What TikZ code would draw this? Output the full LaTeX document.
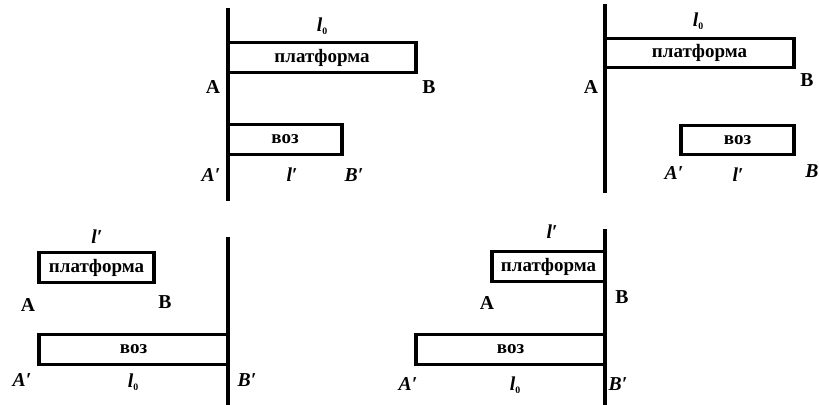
\documentclass[tikz,border=0pt]{standalone}
\usepackage{fontspec}
\setmainfont{Liberation Serif}
\usepackage{tikz}
\usetikzlibrary{positioning}

\begin{document}
\begin{tikzpicture}[
  x=0.025cm, y=-0.025cm,
  bar/.style={draw, line width=2.2pt, inner sep=0pt, minimum height=0.74cm,
              font=\fontsize{13.5}{15}\selectfont\bfseries},
  wall/.style={line width=2.2pt},
  lab/.style={font=\fontsize{14}{16}\selectfont\bfseries, inner sep=0pt},
  ilab/.style={font=\fontsize{14}{16}\selectfont\bfseries\itshape, inner sep=0pt}
]
  \useasboundingbox (0,0) rectangle (819,405);

  % Top left: platform frame
  \coordinate (top1) at (228,8);
  \coordinate (bot1) at (228,201);
  \draw[wall] (top1) -- (bot1);
  \node[bar, minimum width=4.7cm] (plat1) at (322,57.5) {платформа};
  \node[bar, minimum width=2.85cm] (voz1) at (285,139.5) {воз};
  \node[ilab] (l1) at (322,26) {l\raisebox{-2pt}{\fontsize{7}{8}\selectfont\upshape 0}};
  \node[lab] (a1) at (213,87) {A};
  \node[lab] (b1) at (429,87) {B};
  \node[ilab] (ap1) at (211,175) {A′};
  \node[ilab] (lp1) at (292,175) {l′};
  \node[ilab] (bp1) at (354,175) {B′};

  % Top right
  \coordinate (top2) at (605,4);
  \coordinate (bot2) at (605,193);
  \draw[wall] (top2) -- (bot2);
  \node[bar, minimum width=4.725cm] (plat2) at (699.5,53) {платформа};
  \node[bar, minimum width=2.825cm] (voz2) at (737.5,140) {воз};
  \node[ilab] (l2) at (698,21) {l\raisebox{-2pt}{\fontsize{7}{8}\selectfont\upshape 0}};
  \node[lab] (a2) at (591,87) {A};
  \node[lab] (b2) at (807,80) {B};
  \node[ilab] (ap2) at (674,173) {A′};
  \node[ilab] (lp2) at (738,175) {l′};
  \node[ilab] (bp2) at (812,171) {B};

  % Bottom left: cart frame
  \coordinate (top3) at (228,237);
  \coordinate (bot3) at (228,405);
  \draw[wall] (top3) -- (bot3);
  \node[bar, minimum width=2.875cm] (plat3) at (96.5,267.5) {платформа};
  \node[bar, minimum width=4.725cm] (voz3) at (133.5,349.5) {воз};
  \node[ilab] (l3) at (97,237) {l′};
  \node[lab] (a3) at (28,305) {A};
  \node[lab] (b3) at (165,302) {B};
  \node[ilab] (ap3) at (22,380) {A′};
  \node[ilab] (lp3) at (133,382) {l\raisebox{-2pt}{\fontsize{7}{8}\selectfont\upshape 0}};
  \node[ilab] (bp3) at (247,380) {B′};

  % Bottom right
  \coordinate (top4) at (605,229);
  \coordinate (bot4) at (605,405);
  \draw[wall] (top4) -- (bot4);
  \node[bar, minimum width=2.825cm] (plat4) at (548.5,266.5) {платформа};
  \node[bar, minimum width=4.725cm] (voz4) at (510.5,349.5) {воз};
  \node[ilab] (l4) at (552,232) {l′};
  \node[lab] (a4) at (487,303) {A};
  \node[lab] (b4) at (622,297) {B};
  \node[ilab] (ap4) at (408,384) {A′};
  \node[ilab] (lp4) at (515,385) {l\raisebox{-2pt}{\fontsize{7}{8}\selectfont\upshape 0}};
  \node[ilab] (bp4) at (618,384) {B′};
\end{tikzpicture}
\end{document}
